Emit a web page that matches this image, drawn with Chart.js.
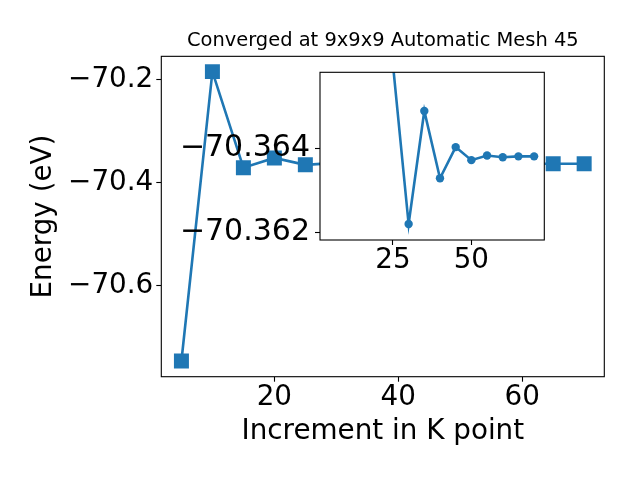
<!DOCTYPE html>
<html>
<head>
<meta charset="utf-8">
<script src="https://cdn.jsdelivr.net/npm/chart.js@4/dist/chart.umd.min.js"></script>
<style>
  body { margin: 0; background: #fff; }
  #wrap { position: relative; width: 640px; height: 480px; }
  #main { position: absolute; left: 0; top: 0; }
  #inset { position: absolute; left: 170px; top: 62px; }
</style>
</head>
<body>
<div id="wrap">
  <canvas id="main" width="640" height="480"></canvas>
  <canvas id="inset" width="384" height="228"></canvas>
</div>
<script>
// k-point increment vs total energy (eV)
const kPoints = [5, 10, 15, 20, 25, 30, 35, 40, 45, 50, 55, 60, 65, 70];
const energy = [-70.747, -70.185, -70.3716, -70.3526, -70.3660, -70.3622, -70.36489,
                -70.36329, -70.36403, -70.36372, -70.36383, -70.36379, -70.36381, -70.36381];
const insetStart = 4; // inset only shows from 25 on

const xTicks = [20, 40, 60];
const yTicks = [-70.2, -70.4, -70.6];
const insetXTicks = [25, 50];
const insetYTicks = [-70.364, -70.362];

const blue = "#1f77b4";
Chart.defaults.font.family = "'DejaVu Sans', sans-serif";
Chart.defaults.color = "#000";

const bigFont = { size: 27.8, lineHeight: 1 };
const minus = (s) => s.replace("-", "\u2212");

// white plot background + black box around the axes
const frame = {
  id: "frame",
  beforeDraw(chart) {
    const a = chart.chartArea, c = chart.ctx;
    c.save();
    c.fillStyle = "#fff";
    c.fillRect(a.left, a.top, a.right - a.left, a.bottom - a.top);
    c.restore();
  },
  afterDatasetsDraw(chart) {
    const a = chart.chartArea, c = chart.ctx;
    c.save();
    c.strokeStyle = "#000";
    c.lineWidth = 1.1;
    c.strokeRect(a.left, a.top, a.right - a.left, a.bottom - a.top);
    c.restore();
  },
};

function axisGrid() {
  return { drawOnChartArea: false, drawTicks: true, tickLength: 5, tickColor: "#000", tickWidth: 1.1, color: "#000" };
}

// fixed axis sizes, no extra room for label overhang
function fixSize(w, h) {
  return (s) => {
    if (w !== null) s.width = w;
    if (h !== null) s.height = h;
    s.paddingTop = 0; s.paddingBottom = 0; s.paddingLeft = 0; s.paddingRight = 0;
  };
}

let mainChart = new Chart(document.getElementById("main").getContext("2d"), {
  type: "line",
  data: {
    datasets: [
      {
        data: kPoints.map((k, i) => ({ x: k, y: energy[i] })),
        borderColor: blue,
        backgroundColor: blue,
        borderWidth: 2.6,
        pointStyle: "rect",
        pointRadius: 10.6,
        pointBorderWidth: 0,
        pointBackgroundColor: blue,
        tension: 0,
      },
    ],
  },
  options: {
    responsive: false,
    animation: false,
    devicePixelRatio: 1,
    layout: { padding: { left: 0, right: 35.7, top: 0, bottom: 0 } },
    plugins: {
      legend: { display: false },
      tooltip: { enabled: false },
      title: {
        display: true,
        fullSize: false,
        text: "Converged at 9x9x9 Automatic Mesh 45",
        font: { size: 19.44, weight: "normal", lineHeight: 1.2 },
        color: "#000",
        padding: { top: 29.6, bottom: 3.4 },
      },
    },
    scales: {
      x: {
        type: "linear",
        min: 1.75,
        max: 73.25,
        afterBuildTicks: (s) => { s.ticks = xTicks.map((v) => ({ value: v })); },
        afterFit: fixSize(null, 103.3),
        grid: axisGrid(),
        border: { display: false },
        ticks: { font: bigFont, padding: 2, maxRotation: 0, callback: (v) => String(v) },
        title: { display: true, text: "Increment in K point", font: { size: 27.8, lineHeight: 1.2 }, padding: { top: 0, bottom: 31.9 } },
      },
      y: {
        type: "linear",
        min: -70.7775,
        max: -70.1553,
        afterBuildTicks: (s) => { s.ticks = yTicks.map((v) => ({ value: v })); },
        afterFit: fixSize(161.3, null),
        grid: axisGrid(),
        border: { display: false },
        ticks: { font: bigFont, padding: 3, callback: (v) => minus(v.toFixed(1)) },
        title: { display: true, text: "Energy (eV)", font: { size: 27.8, lineHeight: 1.2 }, padding: { top: 27.2, bottom: 0 } },
      },
    },
  },
  plugins: [frame],
});

let insetChart = new Chart(document.getElementById("inset").getContext("2d"), {
  type: "line",
  data: {
    datasets: [
      {
        data: kPoints.slice(insetStart).map((k, i) => ({ x: k, y: energy[i + insetStart] })),
        borderColor: blue,
        backgroundColor: blue,
        borderWidth: 2.6,
        pointStyle: "circle",
        pointRadius: 4.2,
        pointBorderWidth: 0,
        pointBackgroundColor: blue,
        tension: 0,
        clip: 0,
      },
    ],
  },
  options: {
    responsive: false,
    animation: false,
    devicePixelRatio: 1,
    layout: { padding: { left: 0, right: 9.7, top: 10.3, bottom: 0 } },
    plugins: {
      legend: { display: false },
      tooltip: { enabled: false },
      title: { display: false },
    },
    scales: {
      x: {
        type: "linear",
        min: 1.75,
        max: 73.25,
        afterBuildTicks: (s) => { s.ticks = insetXTicks.map((v) => ({ value: v })); },
        afterFit: fixSize(null, 50),
        grid: axisGrid(),
        border: { display: false },
        ticks: { font: bigFont, padding: 2, maxRotation: 0, callback: (v) => String(v) },
      },
      y: {
        type: "linear",
        reverse: true,
        min: -70.36581,
        max: -70.36182,
        afterBuildTicks: (s) => { s.ticks = insetYTicks.map((v) => ({ value: v })); },
        afterFit: fixSize(150, null),
        grid: axisGrid(),
        border: { display: false },
        ticks: { font: { size: 30, lineHeight: 1 }, padding: 5, callback: (v) => minus(v.toFixed(3)) },
      },
    },
  },
  plugins: [frame],
});
</script>
</body>
</html>
